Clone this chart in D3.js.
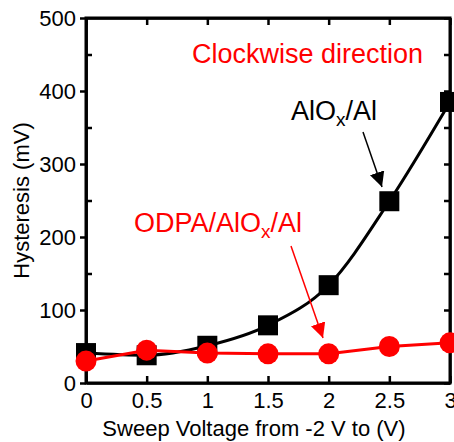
<!DOCTYPE html>
<html>
<head>
<meta charset="utf-8">
<script src="https://cdn.jsdelivr.net/npm/d3@7"></script>
<style>
  body { margin: 0; background: #fff; }
  svg { display: block; font-family: Arial, "Liberation Sans", sans-serif; }
</style>
</head>
<body>
<svg id="chart" width="454" height="442"></svg>
<script>
// sweep voltage end points (V)
var voltages = [0, 0.5, 1, 1.5, 2, 2.5, 3];
var alox = [41, 38, 51, 79, 134, 249, 385];      // AlOx/Al, mV
var odpa = [30, 45, 41, 40, 40, 50, 55];         // ODPA/AlOx/Al, mV
var xTicks = [0, 0.5, 1, 1.5, 2, 2.5, 3];
var yTicks = [0, 100, 200, 300, 400, 500];
var yMinor = [50, 150, 250, 350, 450];

var svg = d3.select("#chart");
var margin = {top: 18, right: 4, bottom: 59, left: 86};
var width = 454 - margin.left - margin.right;
var height = 442 - margin.top - margin.bottom;
var g = svg.append("g").attr("transform", "translate(" + margin.left + "," + margin.top + ")");

var x = d3.scaleLinear().domain([0, 3]).range([0, width]);
var y = d3.scaleLinear().domain([0, 500]).range([height, 0]);

var fmt = function(d) { return d; };

// axes: x ticks inside, y major outside / minor inside
g.append("g")
    .attr("transform", "translate(0," + height + ")")
    .call(d3.axisBottom(x).tickValues(xTicks).tickSizeInner(-7).tickSizeOuter(0).tickPadding(9).tickFormat(fmt));
g.append("g")
    .call(d3.axisTop(x).tickValues(xTicks).tickSizeInner(-7).tickSizeOuter(0).tickFormat(""));
g.append("g")
    .call(d3.axisLeft(y).tickValues(yTicks).tickSizeInner(6).tickSizeOuter(0).tickPadding(4).tickFormat(fmt));
g.append("g")
    .call(d3.axisLeft(y).tickValues(yMinor).tickSizeInner(-6).tickSizeOuter(0).tickFormat(""));
g.append("g")
    .attr("transform", "translate(" + width + ",0)")
    .call(d3.axisRight(y).tickValues(yTicks.concat(yMinor)).tickSizeInner(-6).tickSizeOuter(0).tickFormat(""));

g.selectAll(".domain, .tick line").attr("stroke", "#000").attr("stroke-width", 2.5);
g.selectAll(".tick text").attr("fill", "#000").style("font-size", "22px");

// frame
g.append("rect")
    .attr("width", width).attr("height", height)
    .attr("fill", "none").attr("stroke", "#000").attr("stroke-width", 3);

// axis titles
svg.append("text")
    .attr("x", margin.left + x(1.5) - 14).attr("y", 436)
    .attr("text-anchor", "middle")
    .style("font-size", "22px")
    .text("Sweep Voltage from -2 V to (V)");
svg.append("text")
    .attr("transform", "translate(29," + (margin.top + height / 2) + ") rotate(-90)")
    .attr("text-anchor", "middle")
    .style("font-size", "22px")
    .text("Hysteresis (mV)");

// lines
var blackLine = d3.line()
    .x(function(d, i) { return x(voltages[i]); })
    .y(function(d) { return y(d); })
    .curve(d3.curveMonotoneX);
var redLine = d3.line()
    .x(function(d, i) { return x(voltages[i]); })
    .y(function(d) { return y(d); });

g.append("path").attr("d", blackLine(alox))
    .attr("fill", "none").attr("stroke", "#000").attr("stroke-width", 3);

g.selectAll(".sq").data(alox).enter().append("rect")
    .attr("x", function(d, i) { return x(voltages[i]) - 10; })
    .attr("y", function(d) { return y(d) - 10; })
    .attr("width", 20).attr("height", 20)
    .attr("fill", "#000");

g.append("path").attr("d", redLine(odpa))
    .attr("fill", "none").attr("stroke", "#ff0000").attr("stroke-width", 3);

g.selectAll(".dot").data(odpa).enter().append("circle")
    .attr("cx", function(d, i) { return x(voltages[i]); })
    .attr("cy", function(d) { return y(d); })
    .attr("r", 10.5)
    .attr("fill", "#ff0000");

// arrow heads
var defs = svg.append("defs");
["#000", "#ff0000"].forEach(function(c, i) {
  defs.append("marker")
      .attr("id", "arr" + i)
      .attr("viewBox", "0 0 10 10")
      .attr("refX", 10).attr("refY", 5)
      .attr("markerUnits", "userSpaceOnUse")
      .attr("markerWidth", 15).attr("markerHeight", 15)
      .attr("orient", "auto")
    .append("path")
      .attr("d", "M0,0 L10,5 L0,10 Z")
      .attr("fill", c);
});

// annotations
svg.append("text")
    .attr("x", 192).attr("y", 63)
    .attr("fill", "#ff0000")
    .style("font-size", "27px")
    .text("Clockwise direction");

var t1 = svg.append("text")
    .attr("x", 291).attr("y", 120)
    .attr("fill", "#000")
    .style("font-size", "27px");
t1.append("tspan").text("AlO");
t1.append("tspan").attr("dy", 6).style("font-size", "19px").text("x");
t1.append("tspan").attr("dy", -6).text("/Al");

svg.append("line")
    .attr("x1", 363).attr("y1", 132).attr("x2", 382).attr("y2", 187)
    .attr("stroke", "#000").attr("stroke-width", 1.5)
    .attr("marker-end", "url(#arr0)");

var t2 = svg.append("text")
    .attr("x", 134).attr("y", 232)
    .attr("fill", "#ff0000")
    .style("font-size", "27px");
t2.append("tspan").text("ODPA/AlO");
t2.append("tspan").attr("dy", 6).style("font-size", "19px").text("x");
t2.append("tspan").attr("dy", -6).text("/Al");

svg.append("line")
    .attr("x1", 291).attr("y1", 246).attr("x2", 323).attr("y2", 338)
    .attr("stroke", "#ff0000").attr("stroke-width", 1.5)
    .attr("marker-end", "url(#arr1)");
</script>
</body>
</html>
